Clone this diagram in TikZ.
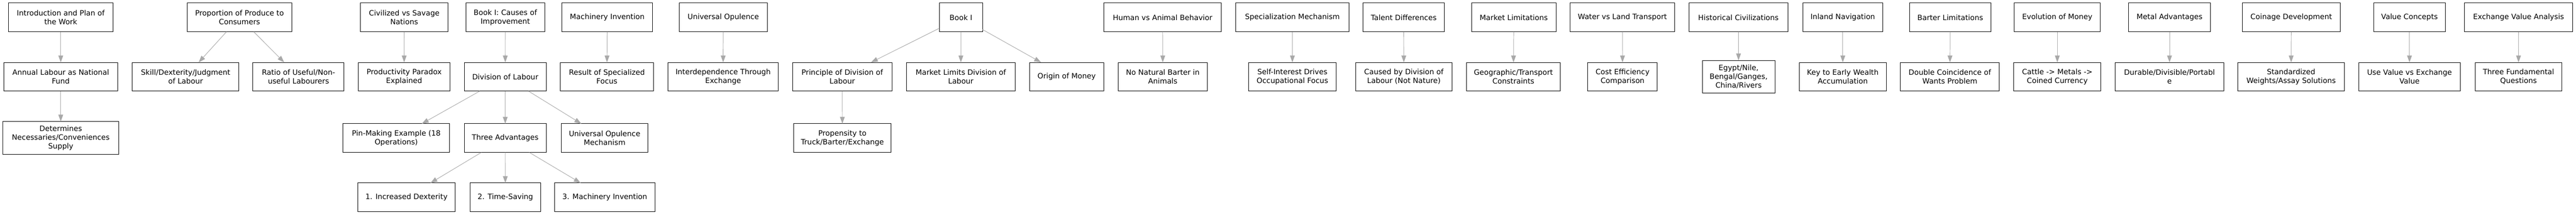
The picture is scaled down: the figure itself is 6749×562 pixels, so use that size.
\documentclass[tikz,border=0pt]{standalone}
\usepackage{fontspec}
\setmainfont{DejaVu Sans}
\usetikzlibrary{arrows.meta}
\definecolor{edgegray}{HTML}{A9A9A9}
\begin{document}
\begin{tikzpicture}[x=1pt,y=-1pt,
  box/.style={draw=black, line width=1.3pt, rectangle, inner sep=0pt, outer sep=0pt,
    minimum height=75.3pt, align=center, font=\fontsize{19.2}{22.7}\selectfont},
  tall/.style={minimum height=86pt},
  conn/.style={draw=edgegray, line width=1.3pt, -{Triangle[length=18pt,width=12.5pt]}}]
\useasboundingbox (0,0) rectangle (6749,562);
% Row 1
\node[box, minimum width=273.7pt] (intro) at (159.2,45.7) {Introduction and Plan of\\the Work};
\node[box, minimum width=275pt] (prop) at (627.5,45.7) {Proportion of Produce to\\Consumers};
\node[box, minimum width=229.6pt] (civ) at (1059,45.7) {Civilized vs Savage\\Nations};
\node[box, minimum width=206pt] (causes) at (1323.9,45.7) {Book I: Causes of\\Improvement};
\node[box, minimum width=238pt] (mach) at (1591,45.7) {Machinery Invention};
\node[box, minimum width=230pt] (univ) at (1895,45.7) {Universal Opulence};
\node[box, minimum width=113.3pt] (bookone) at (2517.7,45.7) {Book I};
\node[box, minimum width=308pt] (human) at (3046,45.7) {Human vs Animal Behavior};
\node[box, minimum width=296pt] (spec) at (3386,45.7) {Specialization Mechanism};
\node[box, minimum width=212.5pt] (talent) at (3677.7,45.7) {Talent Differences};
\node[box, minimum width=222pt] (mlim) at (3966,45.7) {Market Limitations};
\node[box, minimum width=275pt] (water) at (4250.5,45.7) {Water vs Land Transport};
\node[box, minimum width=259pt] (hist) at (4554.5,45.7) {Historical Civilizations};
\node[box, minimum width=210pt] (inland) at (4828,45.7) {Inland Navigation};
\node[box, minimum width=213pt] (barter) at (5109.5,45.7) {Barter Limitations};
\node[box, minimum width=226pt] (evol) at (5390,45.7) {Evolution of Money};
\node[box, minimum width=215pt] (metal) at (5684,45.7) {Metal Advantages};
\node[box, minimum width=256pt] (coin) at (6003,45.7) {Coinage Development};
\node[box, minimum width=187.5pt] (vconc) at (6312.7,45.7) {Value Concepts};
\node[box, minimum width=283pt] (exch) at (6598.5,45.7) {Exchange Value Analysis};
% Row 2
\node[box, minimum width=298pt] (annual) at (159.2,201) {Annual Labour as National\\Fund};
\node[box, minimum width=279.3pt] (skill) at (486.3,201) {Skill/Dexterity/Judgment\\of Labour};
\node[box, minimum width=238.8pt] (ratio) at (782,201) {Ratio of Useful/Non-\\useful Labourers};
\node[box, minimum width=239.5pt] (prodpar) at (1058.8,201) {Productivity Paradox\\Explained};
\node[box, minimum width=215pt] (divlab) at (1323.7,201) {Division of Labour};
\node[box, minimum width=244pt] (result) at (1590,201) {Result of Specialized\\Focus};
\node[box, minimum width=289pt] (interdep) at (1894.5,201) {Interdependence Through\\Exchange};
\node[box, minimum width=261.5pt] (principle) at (2206.7,201) {Principle of Division of\\Labour};
\node[box, minimum width=285.3pt] (mlimits) at (2517.3,201) {Market Limits Division of\\Labour};
\node[box, minimum width=195pt] (origin) at (2794.5,201) {Origin of Money};
\node[box, minimum width=233pt] (nonat) at (3046.5,201) {No Natural Barter in\\Animals};
\node[box, minimum width=229.6pt] (selfint) at (3386,201) {Self-Interest Drives\\Occupational Focus};
\node[box, minimum width=252pt] (caused) at (3678,201) {Caused by Division of\\Labour (Not Nature)};
\node[box, minimum width=246.5pt] (geo) at (3965,201) {Geographic/Transport\\Constraints};
\node[box, minimum width=182pt] (cost) at (4251,201) {Cost Efficiency\\Comparison};
\node[box, tall, minimum width=190pt] (egypt) at (4555,201) {Egypt/Nile,\\Bengal/Ganges,\\China/Rivers};
\node[box, minimum width=228pt] (keyew) at (4828,201) {Key to Early Wealth\\Accumulation};
\node[box, minimum width=259pt] (double) at (5108.5,201) {Double Coincidence of\\Wants Problem};
\node[box, minimum width=228.5pt] (cattle) at (5390,201) {Cattle -> Metals ->\\Coined Currency};
\node[box, minimum width=284pt] (durable) at (5684,201) {Durable/Divisible/Portabl\\e};
\node[box, minimum width=279pt] (standard) at (6002.5,201) {Standardized\\Weights/Assay Solutions};
\node[box, minimum width=266.5pt] (usevalue) at (6312.7,201) {Use Value vs Exchange\\Value};
\node[box, minimum width=227.5pt] (threeq) at (6598.3,201) {Three Fundamental\\Questions};
% Row 3
\node[box, tall, minimum width=303pt] (determines) at (159.2,361.2) {Determines\\Necessaries/Conveniences\\Supply};
\node[box, minimum width=279.5pt] (pin) at (1038.2,361.5) {Pin-Making Example (18\\Operations)};
\node[box, minimum width=215pt] (threeadv) at (1323.7,361.5) {Three Advantages};
\node[box, minimum width=228pt] (univmech) at (1584,361.5) {Universal Opulence\\Mechanism};
\node[box, minimum width=256pt] (propensity) at (2207,361.5) {Propensity to\\Truck/Barter/Exchange};
% Row 4
\node[box, minimum width=255.5pt] (dext) at (1065,516.7) {1. Increased Dexterity};
\node[box, minimum width=184pt] (timesav) at (1324,516.7) {2. Time-Saving};
\node[box, minimum width=263pt] (machinv) at (1584.5,516.7) {3. Machinery Invention};
% Connectors
\draw[conn] (intro) -- (annual);
\draw[conn] (annual) -- (determines);
\draw[conn] (prop) -- (skill);
\draw[conn] (prop) -- (ratio);
\draw[conn] (civ) -- (prodpar);
\draw[conn] (causes) -- (divlab);
\draw[conn] (divlab) -- (pin);
\draw[conn] (divlab) -- (threeadv);
\draw[conn] (divlab) -- (univmech);
\draw[conn] (threeadv) -- (dext);
\draw[conn] (threeadv) -- (timesav);
\draw[conn] (threeadv) -- (machinv);
\draw[conn] (mach) -- (result);
\draw[conn] (univ) -- (interdep);
\draw[conn] (bookone) -- (principle);
\draw[conn] (bookone) -- (mlimits);
\draw[conn] (bookone) -- (origin);
\draw[conn] (principle) -- (propensity);
\draw[conn] (human) -- (nonat);
\draw[conn] (spec) -- (selfint);
\draw[conn] (talent) -- (caused);
\draw[conn] (mlim) -- (geo);
\draw[conn] (water) -- (cost);
\draw[conn] (hist) -- (egypt);
\draw[conn] (inland) -- (keyew);
\draw[conn] (barter) -- (double);
\draw[conn] (evol) -- (cattle);
\draw[conn] (metal) -- (durable);
\draw[conn] (coin) -- (standard);
\draw[conn] (vconc) -- (usevalue);
\draw[conn] (exch) -- (threeq);
\end{tikzpicture}
\end{document}
